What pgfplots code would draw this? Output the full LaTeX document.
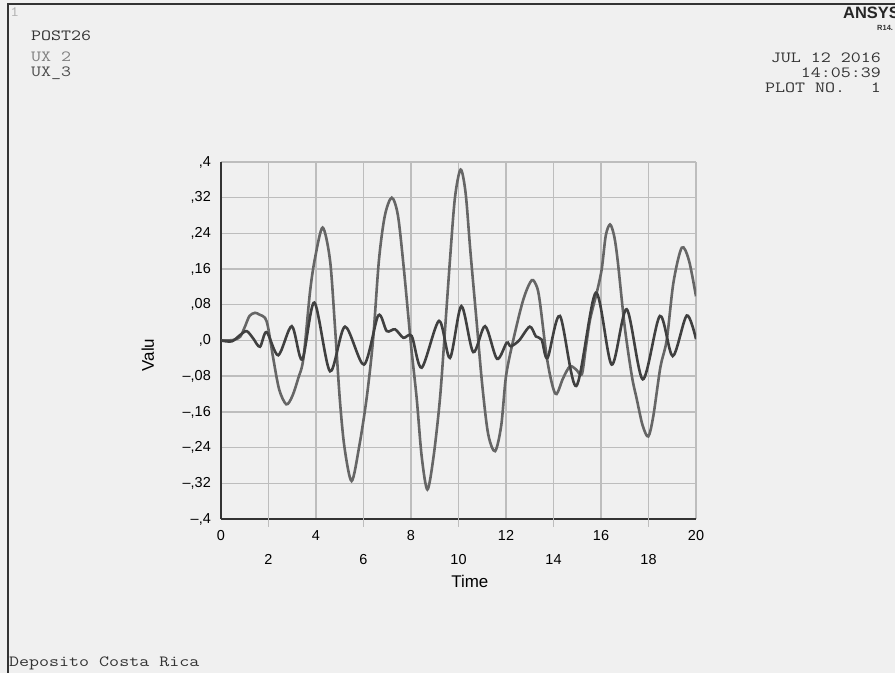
\documentclass[border=0pt]{standalone}
\usepackage{fontspec}
\setmainfont{Liberation Sans}
\usepackage{pgfplots}
\pgfplotsset{compat=1.18}
\definecolor{bgc}{HTML}{F0F0F0}
\definecolor{gridc}{HTML}{BDBDBD}
\definecolor{axc}{HTML}{333333}
\definecolor{uxa}{HTML}{666666}
\definecolor{uxb}{HTML}{404040}
\newcommand{\mono}{\ttfamily\fontsize{19.5}{19.5}\selectfont}
\newcommand{\mt}[1]{\scalebox{1}[0.8]{#1}}
\begin{document}
\begin{tikzpicture}[x=1bp,y=1bp]
\useasboundingbox (0,0) rectangle (895,673);
\fill[bgc] (0,0) rectangle (895,673);
\draw[axc, line width=1.5bp] (8,0) -- (8,669) -- (895,669);
% header texts
\node[anchor=west, inner sep=0pt, text=black!30, font=\ttfamily\fontsize{18}{18}\selectfont] at (10,661) {\mt{1}};
\node[anchor=west, inner sep=0pt, text=black!80, font=\mono] at (31,637) {\mt{POST26}};
\node[anchor=west, inner sep=0pt, text=black!50, font=\mono] at (31,616.5) {\mt{UX 2}};
\node[anchor=west, inner sep=0pt, text=black!70, font=\mono] at (31,599.5) {\mt{UX\_3}};
\node[anchor=west, inner sep=0pt, text=black!85, font=\bfseries\fontsize{16.5}{16.5}\selectfont] at (843,660) {ANSYS};
\node[anchor=west, inner sep=0pt, text=black!80, font=\bfseries\fontsize{7.5}{7.5}\selectfont] at (877,645) {R14.};
\node[anchor=east, inner sep=0pt, text=black!80, font=\mono] at (881,615) {\mt{JUL 12 2016}};
\node[anchor=east, inner sep=0pt, text=black!80, font=\mono] at (881,600) {\mt{14:05:39}};
\node[anchor=west, inner sep=0pt, text=black!80, font=\mono] at (765,585) {\mt{PLOT NO.}};
\node[anchor=east, inner sep=0pt, text=black!80, font=\mono] at (881,585) {\mt{1}};
\node[anchor=west, inner sep=0pt, text=black!80, font=\mono] at (9,10) {\mt{Deposito Costa Rica}};
\begin{axis}[
  at={(221bp,154bp)}, anchor=south west,
  scale only axis, width=475bp, height=357bp,
  xmin=0, xmax=20, ymin=-0.4, ymax=0.4,
  axis lines=left, axis line style={-, axc, line width=2.4bp},
  xtick={0,4,8,12,16,20},
  xticklabels={0,4,8,12,16,20},
  extra x ticks={2,6,10,14,18},
  extra x tick labels={2,6,10,14,18},
  extra x tick style={major tick length=8bp, tick align=outside,
     tick style={gridc, line width=1.4bp},
     xticklabel style={yshift=-16bp}},
  ytick={-0.4,-0.32,-0.24,-0.16,-0.08,0,0.08,0.16,0.24,0.32,0.4},
  yticklabels={{–,4},{–,32},{–,24},{–,16},{–,08},{,0},{,08},{,16},{,24},{,32},{,4}},
  major tick length=0pt,
  grid=major, grid style={gridc, line width=1.4bp},
  tick label style={font=\fontsize{14.5}{14.5}\selectfont, text=black},
  xticklabel style={inner sep=0pt, anchor=north, yshift=-11bp},
  yticklabel style={inner sep=0pt, anchor=east, xshift=-10bp},
  /pgf/number format/assume math mode=true,
  xlabel={Time}, ylabel={Valu},
  label style={font=\fontsize{17}{17}\selectfont},
  xlabel style={at={(rel axis cs:0.524,-0.176)}, anchor=center},
  ylabel style={at={(rel axis cs:-0.154,0.459)}, anchor=center, rotate=0},
  clip=true,
]
\addplot[uxa, line width=2.6bp, smooth] coordinates {
(0,0) (0.5,0.001) (0.8,0.008) (1.0,0.03) (1.2,0.055) (1.43,0.062) (1.62,0.058)
(1.85,0.051) (1.98,0.03) (2.2,-0.04) (2.45,-0.11) (2.75,-0.143) (3.0,-0.125)
(3.25,-0.085) (3.47,-0.04) (3.75,0.11) (3.96,0.185) (4.28,0.253) (4.59,0.18)
(4.8,0.03) (5.0,-0.13) (5.2,-0.24) (5.5,-0.315) (5.82,-0.237) (6.13,-0.13)
(6.4,0.0) (6.65,0.18) (6.9,0.28) (7.19,0.32) (7.45,0.28) (7.7,0.16) (8.0,-0.01)
(8.24,-0.13) (8.45,-0.26) (8.69,-0.334) (8.95,-0.26) (9.22,-0.13) (9.44,0.03)
(9.64,0.18) (9.85,0.32) (10.09,0.383) (10.3,0.33) (10.5,0.2) (10.75,0.05)
(11.0,-0.1) (11.25,-0.21) (11.54,-0.248) (11.8,-0.19) (12.0,-0.08) (12.31,0.002)
(12.73,0.092) (13.08,0.135) (13.3,0.12) (13.43,0.085) (13.71,-0.035) (13.95,-0.1)
(14.13,-0.12) (14.4,-0.085) (14.69,-0.058) (14.95,-0.065) (15.19,-0.076)
(15.35,-0.02) (15.54,0.047) (15.82,0.107) (16.03,0.16) (16.2,0.235) (16.38,0.26)
(16.55,0.235) (16.7,0.18) (17.0,0.03) (17.3,-0.08) (17.5,-0.13) (17.75,-0.19)
(17.99,-0.215) (18.2,-0.17) (18.5,-0.06) (18.77,0.002) (19.05,0.13) (19.4,0.208)
(19.7,0.18) (20,0.099)
};
\addplot[uxb, line width=2.6bp, smooth] coordinates {
(0,0) (0.45,-0.002) (0.8,0.012) (1.08,0.021) (1.35,0.005) (1.64,-0.014)
(1.92,0.019) (2.41,-0.033) (2.98,0.032) (3.42,-0.043) (3.93,0.085) (4.59,-0.069)
(5.22,0.031) (6.02,-0.054) (6.62,0.056) (6.98,0.021) (7.33,0.025) (7.68,0.006)
(8.03,0.01) (8.45,-0.061) (9.18,0.044) (9.64,-0.039) (10.12,0.077) (10.62,-0.026)
(11.12,0.032) (11.62,-0.041) (12.03,-0.005) (12.2,-0.013) (12.55,0.0) (13.0,0.031)
(13.26,0.009) (13.5,0.002) (13.75,-0.039) (14.27,0.055) (14.96,-0.102)
(15.78,0.107) (16.45,-0.054) (17.08,0.07) (17.76,-0.087) (18.48,0.055)
(19.02,-0.035) (19.61,0.056) (20,0.003)
};
\end{axis}
\end{tikzpicture}
\end{document}
